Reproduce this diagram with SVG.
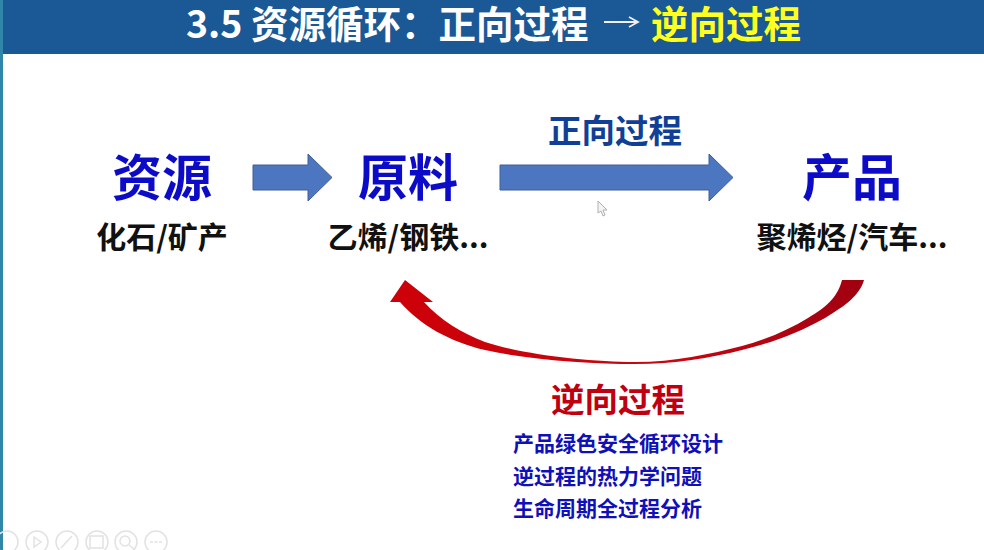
<svg xmlns="http://www.w3.org/2000/svg" width="984" height="550" viewBox="0 0 984 550">
<defs>
<linearGradient id="red" x1="0" x2="1" y1="0" y2="0"><stop offset="0" stop-color="#cc0008"/><stop offset="0.6" stop-color="#c80610"/><stop offset="1" stop-color="#a00010"/></linearGradient>
</defs>
<style>
text{font-family:"Noto Sans CJK SC","Liberation Sans",sans-serif;font-weight:700}
.big{font-size:50px;fill:#0c0cc8;text-anchor:middle}
.sub{font-size:30px;fill:#111;text-anchor:middle}
.list{font-size:21px;fill:#1010b8}
.ico{fill:none;stroke:#e2e2e2;stroke-width:1.5}
.arr{fill:#4d76c0;stroke:#3f5f96;stroke-width:1}
</style>
<rect width="984" height="550" fill="#fff"/>
<rect x="0" y="0" width="3" height="550" fill="#2f86a8"/>
<g id="title">
<rect x="3" y="0" width="981" height="54" fill="#1b5896"/>
<text x="186" y="38" font-size="37.500" fill="#fff">3.5 资源循环：正向过程</text>
<path d="M604 22H637M629 17L638 22L629 27" fill="none" stroke="#f0f0f0" stroke-width="1.800"/>
<text x="651" y="38" font-size="37.500" fill="#ffff20">逆向过程</text>
</g>
<g id="node-resource">
<text class="big" x="162" y="196">资源</text>
<text class="sub" x="162" y="248">化石/矿产</text>
</g>
<g id="node-material">
<text class="big" x="408" y="196">原料</text>
<text class="sub" x="408" y="248">乙烯/钢铁...</text>
</g>
<g id="node-product">
<text class="big" x="852" y="196">产品</text>
<text class="sub" x="852" y="248">聚烯烃/汽车...</text>
</g>
<g id="connectors">
<path class="arr" d="M253 165H308V154L332 177.500L308 201V190H253Z"/>
<path class="arr" d="M500 165H709V154L733 177.500L709 201V190H500Z"/>
<path fill="url(#red)" d="M864 280C860 295 845 306 825 318C800 332 775 342 742 350C710 358 675 364 635 364C590 364 530 360 485 350C450 342 420 325 400 302H390L405 280L433 302H424C440 320 462 333 485 342C525 355 590 362 635 362C675 362 710 354 742 346C768 339 790 329 808 318C830 305 838 295 842 280Z"/>
</g>
<g id="label-forward"><text x="615" y="143" font-size="33.500" fill="#123f96" text-anchor="middle">正向过程</text></g>
<g id="label-reverse">
<text x="618" y="412" font-size="33.500" fill="#c00010" text-anchor="middle">逆向过程</text>
<text class="list" x="513" y="451">产品绿色安全循环设计</text>
<text class="list" x="513" y="484">逆过程的热力学问题</text>
<text class="list" x="513" y="516">生命周期全过程分析</text>
</g>
<g id="cursor"><path d="M598 201V213L601 211L603 216L605 215L603 210H607Z" fill="#f4f4f4" stroke="#b0b0b0" stroke-width="1"/></g>
<g id="toolbar">
<circle class="ico" cx="7" cy="542" r="11"/><circle class="ico" cx="37" cy="542" r="11"/><path class="ico" d="M34 537L41 542L34 547Z"/>
<circle class="ico" cx="67" cy="542" r="11"/><path class="ico" d="M61 548L72 536"/>
<circle class="ico" cx="97" cy="542" r="11"/><rect class="ico" x="90" y="536" width="13" height="12"/>
<circle class="ico" cx="126" cy="542" r="11"/><circle class="ico" cx="125" cy="541" r="5"/><path class="ico" d="M129 545L134 549"/>
<circle class="ico" cx="156" cy="542" r="11"/><path class="ico" d="M150 542H162" stroke-dasharray="3 1.500"/>
</g>
</svg>
